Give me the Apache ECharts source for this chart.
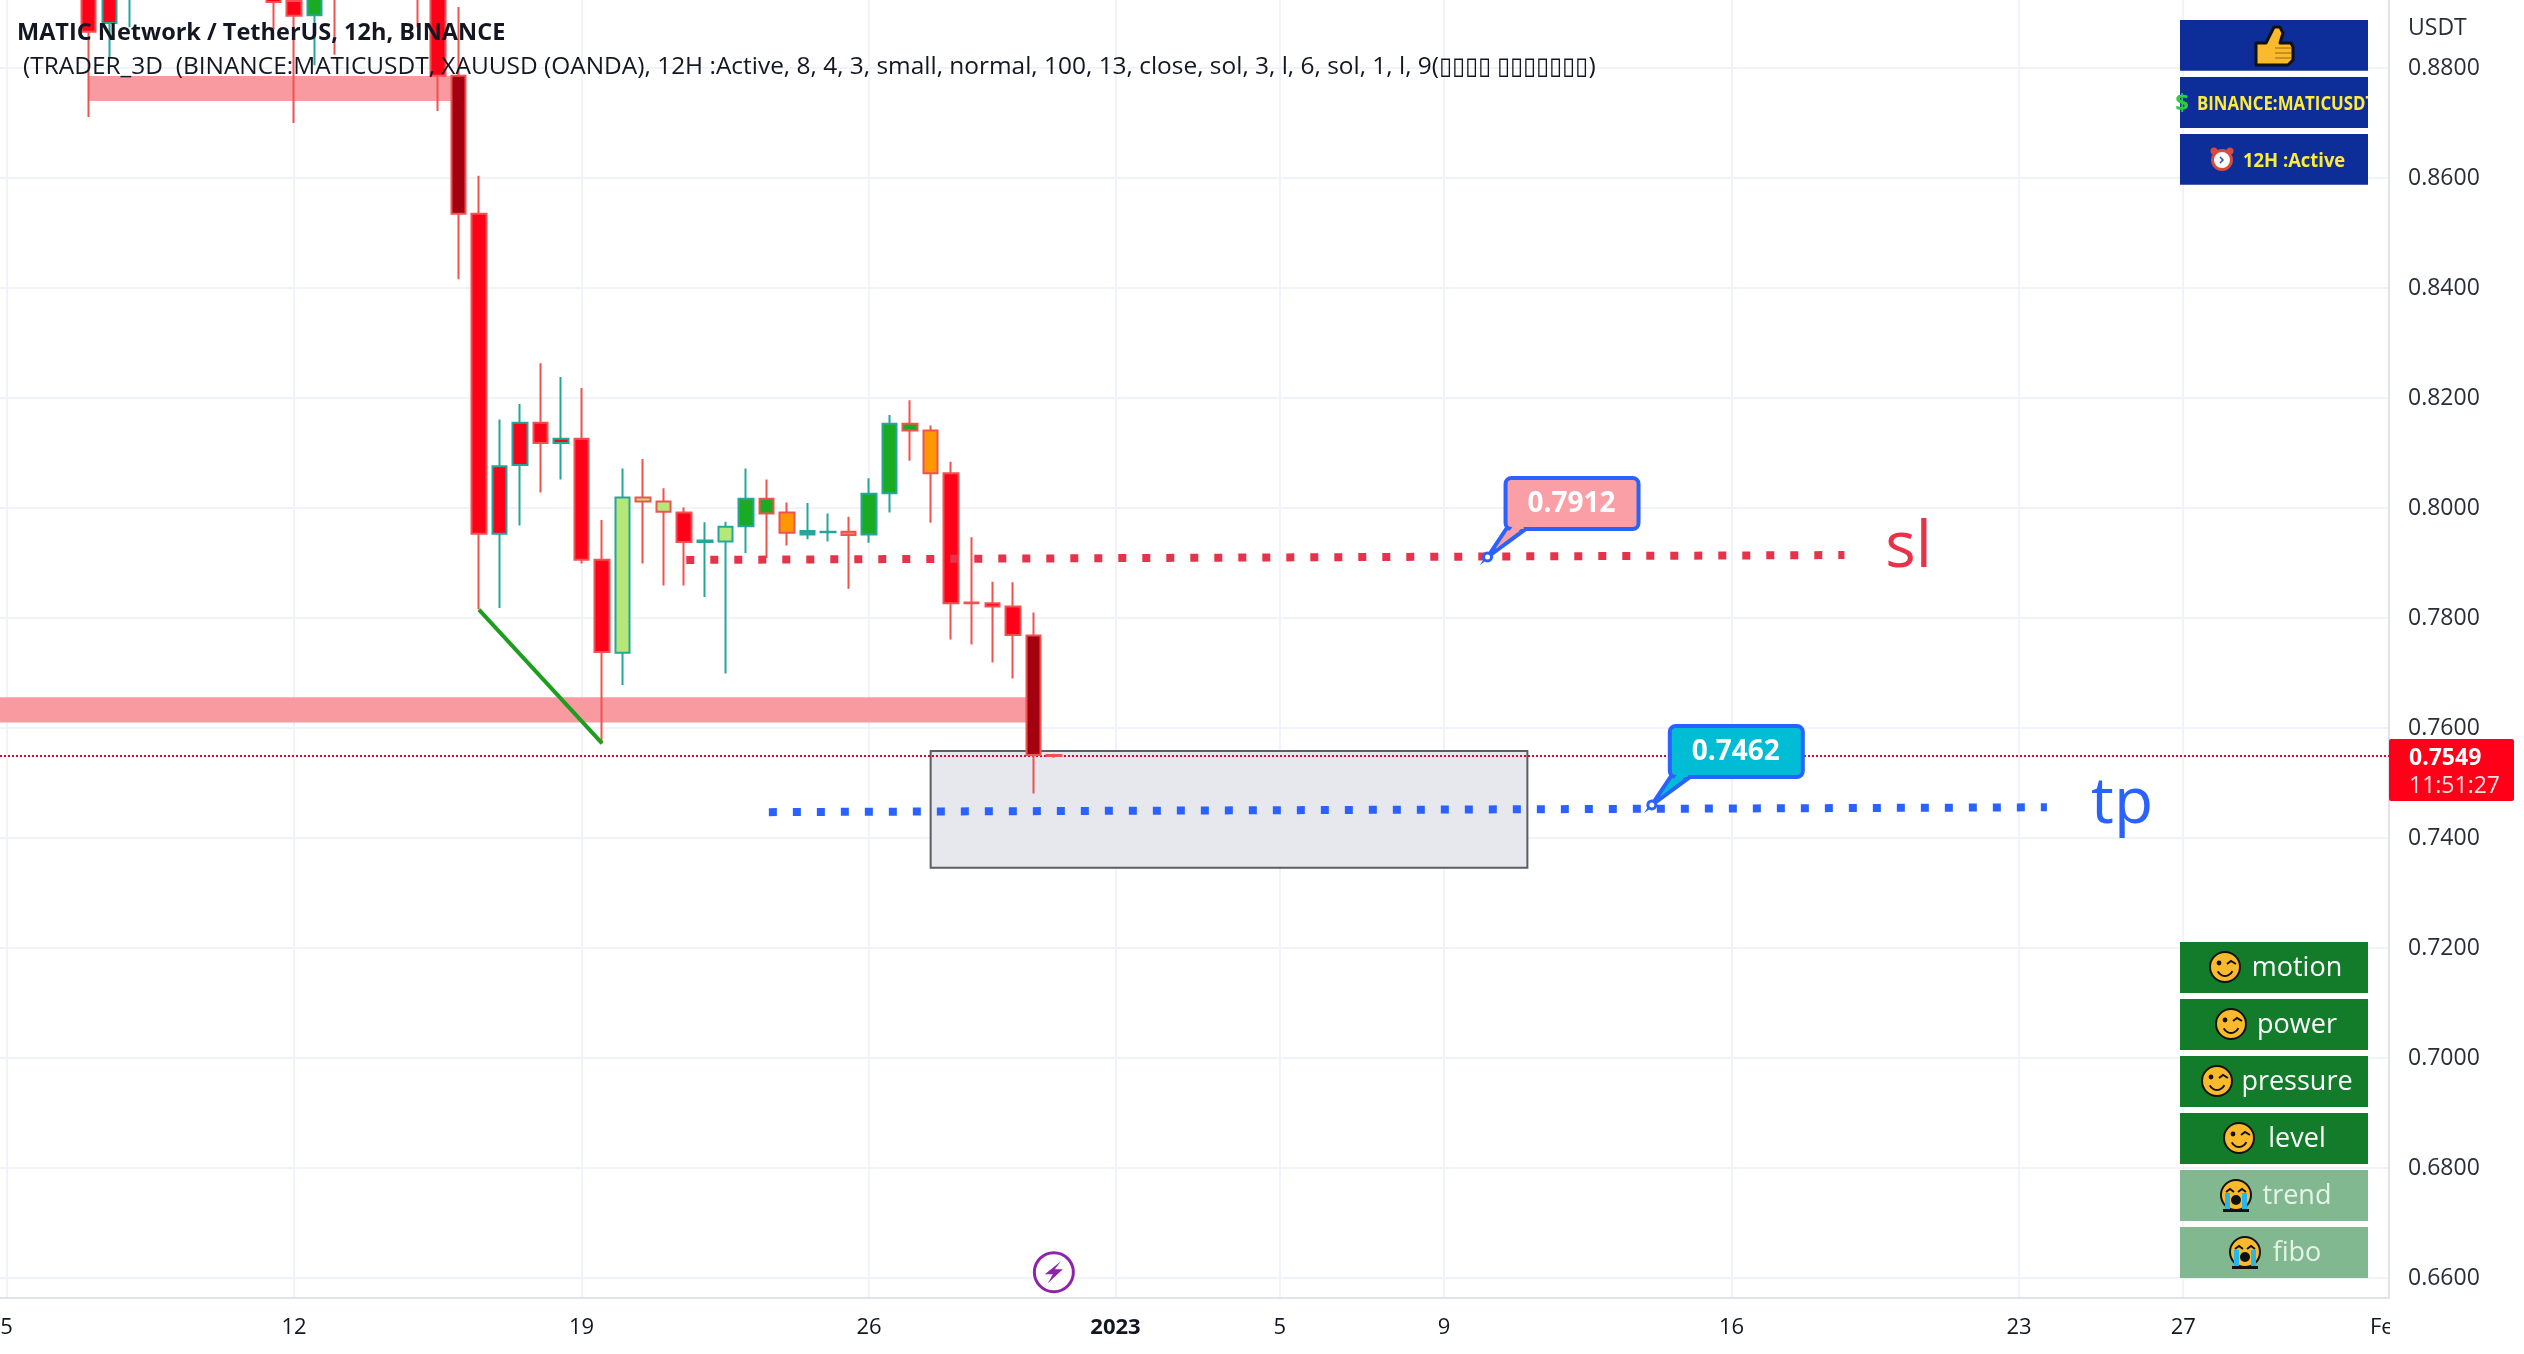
<!DOCTYPE html>
<html><head><meta charset="utf-8">
<style>html,body{margin:0;padding:0;background:#fff}#c{width:2524px;height:1354px}</style>
<script src="https://cdn.jsdelivr.net/npm/echarts@6/dist/echarts.min.js"></script>
</head><body><div id="c"></div>
<script>
// Day numbers: 1 = 1 Dec 2022, x.5 = the 12:00 bar
const barDays = [7,7.5,8,11.5,12,12.5,13,15,15.5,16,16.5,17,17.5,18,18.5,19,19.5,20,20.5,21,21.5,22,22.5,23,23.5,24,24.5,25,25.5,26,26.5,27,27.5,28,28.5,29,29.5,30,30.5];
const opens  = [.8950,.8990,.8950,.8950,.8922,.8896,.8950,.8950,.8950,.8786,.8535,.7953,.8078,.8155,.8118,.8126,.7906,.7737,.8019,.8012,.7992,.7938,.7939,.7967,.8017,.7992,.7952,.7956,.7957,.7952,.8027,.8153,.8141,.8063,.7828,.7827,.7821,.7768,.7551];
const closes = [.8866,.8882,.8930,.8920,.8895,.8930,.8930,.8930,.8786,.8535,.7953,.8076,.8155,.8118,.8126,.7906,.7738,.8019,.8012,.7993,.7938,.7941,.7966,.8017,.7990,.7955,.7958,.7957,.7951,.8026,.8153,.8141,.8063,.7827,.7827,.7821,.7769,.7551,.7549];
const lows   = [.8711,.8820,.8874,.8870,.8700,.8805,.8824,.8874,.8722,.8416,.7816,.7818,.7968,.8028,.8052,.7899,.7572,.7678,.7899,.7859,.7859,.7838,.7699,.7918,.7909,.7932,.7943,.7939,.7853,.7937,.7992,.8086,.7973,.7761,.7752,.7719,.7690,.7481,.7546];
const highs  = [.9000,.9050,.9000,.8950,.9000,.9000,.9000,.9000,.9000,.8911,.8604,.8161,.8189,.8263,.8238,.8218,.7978,.8072,.8089,.8036,.8001,.7974,.7975,.8072,.8052,.8010,.8009,.7990,.7984,.8054,.8169,.8196,.8150,.8084,.7947,.7866,.7865,.7810,.7553];
const fills  = ['red','red','red','red','red','green','red','red','red','dark','red','red','red','red','red','red','red','lime','lime','lime','red','teal','lime','green','green','orange','teal','teal','orange','green','green','green','orange','red','red','red','red','dark','red'];
const wicks  = ['red','teal','teal','red','red','teal','red','red','red','red','red','teal','teal','red','teal','red','red','teal','red','red','red','teal','teal','teal','red','red','teal','teal','red','teal','teal','red','red','red','red','red','red','red','red'];
const fillColors = {red:'#ff0018',green:'#1aab22',orange:'#ff9800',dark:'#a30010',lime:'#b5e878',teal:'#26a69a'};
const wickColors = {red:'#ef5350',teal:'#26a69a'};

const xTickDays   = [5,12,19,26,32,36,40,47,54,58,63];
const xTickLabels = ['5','12','19','26','2023','5','9','16','23','27','Feb'];
const yTicks = [.66,.68,.70,.72,.74,.76,.78,.80,.82,.84,.86,.88];
const xMin = 4.839, xMax = 63.01, yMin = .65636, yMax = .89236;

const zoneDays   = [[7.006,15.84],[4.839,29.83]];
const zonePrices = [[.87855,.8740],[.7656,.7610]];
const boxDays = [27.5,42.03], boxPrices = [.75582,.7346];
const trendLine = [[16.5,.7815],[19.5,.7572]];
const slLine = [[21.55,.79055],[49.75,.79145]];
const tpLine = [[23.56,.7447],[54.68,.74558]];
const lastPrice = 0.7549, countdown = '11:51:27';
const slCallout = {day:41.06, price:.79109, label:'0.7912', fill:'#fa9fa5'};
const tpCallout = {day:45.06, price:.7460, label:'0.7462', fill:'#00bcd4'};
const slText = {day:51.31, price:.7926, label:'sl', color:'#e8324a'};
const tpText = {day:56.51, price:.7461, label:'tp', color:'#2962ff'};
const lightningDay = 30.5, lightningPrice = .66105;
const topPanels = ['BINANCE:MATICUSDT','12H :Active'];
const bottomPanels = ['motion','power','pressure','level','trend','fibo'];
const panelFaded = [false,false,false,false,true,true];
const titleText = 'MATIC Network / TetherUS, 12h, BINANCE';
const studyText = '(TRADER_3D  (BINANCE:MATICUSDT, XAUUSD (OANDA), 12H :Active, 8, 4, 3, small, normal, 100, 13, close, sol, 3, l, 6, sol, 1, l, 9(\u25AF\u25AF\u25AF\u25AF \u25AF\u25AF\u25AF\u25AF\u25AF\u25AF\u25AF)';

const FONT = '"Open Sans","Noto Sans",sans-serif';
const candleData = barDays.map((d,i)=>{
  const f=fillColors[fills[i]], w=wickColors[wicks[i]];
  return {value:[d,opens[i],closes[i],lows[i],highs[i]],
    itemStyle:{color:f,color0:f,borderColor:w,borderColor0:w,borderColorDoji:w,borderWidth:2}};
});

function faceGraphics(cx,cy,kind){
  const out=[], r=15, z=60;
  out.push({type:'circle',z,shape:{cx,cy,r},style:{fill:'#fbb92c',stroke:'#111',lineWidth:2}});
  if(kind==='wink'){
    out.push({type:'circle',z:z+1,shape:{cx:cx-6,cy:cy-4,r:2.4},style:{fill:'#111'}});
    out.push({type:'polyline',z:z+1,shape:{points:[[cx+2,cy-3],[cx+6,cy-6],[cx+11,cy-3]]},style:{stroke:'#111',fill:null,lineWidth:2}});
    out.push({type:'arc',z:z+1,shape:{cx,cy:cy+1,r:8,startAngle:0.4,endAngle:2.7},style:{stroke:'#111',fill:null,lineWidth:2}});
  } else {
    out.push({type:'polyline',z:z+1,shape:{points:[[cx-10,cy-3],[cx-6,cy-6],[cx-2,cy-3]]},style:{stroke:'#111',fill:null,lineWidth:2}});
    out.push({type:'polyline',z:z+1,shape:{points:[[cx+2,cy-3],[cx+6,cy-6],[cx+10,cy-3]]},style:{stroke:'#111',fill:null,lineWidth:2}});
    out.push({type:'rect',z:z+1,shape:{x:cx-11,y:cy-2,width:5,height:17},style:{fill:'#29b6e8'}});
    out.push({type:'rect',z:z+1,shape:{x:cx+6,y:cy-2,width:5,height:17},style:{fill:'#29b6e8'}});
    out.push({type:'circle',z:z+1,shape:{cx,cy:cy+5,r:5},style:{fill:'#111'}});
    out.push({type:'rect',z:z+1,shape:{x:cx-13,y:cy+14,width:26,height:3},style:{fill:'#111'}});
  }
  return out;
}

const gfx = [];
function text(x,y,t,font,fill,align,extra){
  gfx.push(Object.assign({type:'text',z:70,x,y,style:{text:t,font,fill,textAlign:align||'left',textVerticalAlign:'middle'}},extra||{}));
}
text(17,33,titleText,'bold 23.5px '+FONT,'#131722');
text(23,67,studyText,'24.45px '+FONT,'#131722');
text(2408,28,'USDT','23px '+FONT,'#2a2e39');
// top panels
[[20,50.7],[77,51],[134,50.7]].forEach(([y,h])=>gfx.push({type:'rect',z:50,shape:{x:2180,y,width:188,height:h},style:{fill:'#0d2e99'}}));
// thumb
gfx.push({type:'polygon',z:60,shape:{points:[[2256,43],[2266,43],[2274,27],[2280,27],[2283,33],[2280,43],[2291,43],[2293,47],[2293,60],[2288,65],[2256,65]]},style:{fill:'#fbb92c',stroke:'#111',lineWidth:3,lineJoin:'round'}});
[48,53,58].forEach(y=>gfx.push({type:'line',z:61,shape:{x1:2275,y1:y,x2:2291,y2:y},style:{stroke:'#b9851a',lineWidth:1.5}}));
text(2182,104,'$','bold 24px '+FONT,'#2ecc40','center');
text(2197,104,topPanels[0],'bold 20px '+FONT,'#ffeb3b','left',{scaleX:0.84});
gfx.push({type:'rect',z:71,shape:{x:2368,y:77,width:20,height:51},style:{fill:'#fff'}});
gfx.push({type:'circle',z:60,shape:{cx:2222,cy:160,r:9.5},style:{fill:'#fff',stroke:'#d94b3d',lineWidth:3}});
gfx.push({type:'circle',z:60,shape:{cx:2214,cy:151,r:3.5},style:{fill:'#d94b3d'}});
gfx.push({type:'circle',z:60,shape:{cx:2230,cy:151,r:3.5},style:{fill:'#d94b3d'}});
gfx.push({type:'polyline',z:61,shape:{points:[[2220,157],[2223,160],[2220,163]]},style:{stroke:'#3949ab',fill:null,lineWidth:1.5}});
text(2243,161,topPanels[1],'bold 20px '+FONT,'#ffeb3b','left',{scaleX:0.92});
// bottom panels
const faceX=[2225,2231,2217,2239,2236,2245];
bottomPanels.forEach((p,i)=>{
  const y=942+i*57;
  gfx.push({type:'rect',z:50,shape:{x:2180,y,width:188,height:51},style:{fill:panelFaded[i]?'#82b890':'#127c2a'}});
  gfx.push(...faceGraphics(faceX[i],y+25,panelFaded[i]?'cry':'wink'));
  text(2297,y+26,p,'27px '+FONT,panelFaded[i]?'#e6f3e8':'#ffffff','center');
});
// hides the clipped part of the last time label under the price scale
gfx.push({type:'rect',z:100,shape:{x:2390,y:1300,width:134,height:54},style:{fill:'#fff'}});

const option = {
  animation:false, backgroundColor:'#fff',
  grid:{left:0,top:0,width:2389,height:1298,containLabel:false,outerBoundsMode:'none'},
  xAxis:{type:'value',min:xMin,max:xMax,
    axisLine:{show:true,onZero:false,lineStyle:{color:'#e0e3eb',width:2}},
    axisTick:{show:false,customValues:xTickDays},
    splitLine:{show:true,lineStyle:{color:'#f0f3fa',width:2}},
    axisLabel:{customValues:xTickDays,margin:19,hideOverlap:false,showMinLabel:true,showMaxLabel:true,
      fontFamily:FONT,fontSize:22,color:'#131722',
      formatter:v=>{const s=xTickLabels[xTickDays.indexOf(v)];return s==='2023'?'{b|2023}':s;},
      rich:{b:{fontWeight:'bold',fontFamily:FONT,fontSize:22,color:'#131722'}}}},
  yAxis:{type:'value',position:'right',min:yMin,max:yMax,scale:true,
    axisLine:{show:true,onZero:false,lineStyle:{color:'#e0e3eb',width:2}},
    axisTick:{show:false,customValues:yTicks},
    splitLine:{show:true,lineStyle:{color:'#f0f3fa',width:2}},
    axisLabel:{customValues:yTicks,margin:19,padding:[3,0,0,0],fontFamily:FONT,fontSize:23,color:'#2a2e39',formatter:v=>v.toFixed(4)}},
  graphic:{elements:gfx},
  series:[
   {type:'custom',name:'zones',z:1,clip:true,coordinateSystem:'cartesian2d',silent:true,
    data:zoneDays.map((d,i)=>[d[0],d[1],zonePrices[i][0],zonePrices[i][1]]),
    encode:{x:[0,1],y:[2,3]},
    renderItem:(p,api)=>{const a=api.coord([api.value(0),api.value(2)]),b=api.coord([api.value(1),api.value(3)]);
      return {type:'rect',shape:{x:a[0],y:a[1],width:b[0]-a[0],height:b[1]-a[1]},style:{fill:'#f99aa1'}};}},
   {type:'custom',name:'box',z:1,silent:true,
    data:[[boxDays[0],boxDays[1],boxPrices[0],boxPrices[1]]],encode:{x:[0,1],y:[2,3]},
    renderItem:(p,api)=>{const a=api.coord([api.value(0),api.value(2)]),b=api.coord([api.value(1),api.value(3)]);
      return {type:'rect',shape:{x:a[0],y:a[1],width:b[0]-a[0],height:b[1]-a[1]},style:{fill:'#e7e8ed',stroke:'#5a5c66',lineWidth:2}};}},
   {type:'line',name:'last',z:2,symbol:'none',silent:true,data:[[xMin,lastPrice],[xMax,lastPrice]],
    lineStyle:{color:'#e5002b',width:2,type:[2,2]}},
   {type:'candlestick',name:'MATICUSDT',z:3,layout:'horizontal',barWidth:15,silent:true,clip:true,
    encode:{x:0,y:[1,2,3,4]},data:candleData},
   {type:'line',name:'trend',z:4,symbol:'none',silent:true,data:trendLine,lineStyle:{color:'#1e9e1e',width:4}},
   {type:'line',name:'sl',z:4,symbol:'none',silent:true,data:slLine,lineStyle:{color:'#e8324a',width:8,type:[8,16]}},
   {type:'line',name:'tp',z:4,symbol:'none',silent:true,data:tpLine,lineStyle:{color:'#2962ff',width:8,type:[8,16]}},
   {type:'custom',name:'callouts',z:6,silent:true,
    data:[slCallout,tpCallout].map(c=>[c.day,c.price]),encode:{x:0,y:1},
    renderItem:(p,api)=>{const c=[slCallout,tpCallout][p.dataIndex];const t=api.coord([api.value(0),api.value(1)]);
      const X=t[0],Y=t[1];
      return {type:'group',children:[
        {type:'polygon',shape:{points:[[X,Y],[X+20,Y-30],[X+41,Y-30]]},style:{fill:c.fill,stroke:'#2962ff',lineWidth:4}},
        {type:'rect',shape:{x:X+18,y:Y-79,width:133,height:51,r:6},style:{fill:c.fill,stroke:'#2962ff',lineWidth:4}},
        {type:'polygon',shape:{points:[[X+8,Y-8],[X+25,Y-30],[X+36,Y-30]]},style:{fill:c.fill}},
        {type:'rect',shape:{x:X+25,y:Y-34,width:11,height:6},style:{fill:c.fill}},
        {type:'circle',shape:{cx:X,cy:Y,r:4},style:{fill:'#fff',stroke:'#2962ff',lineWidth:3}},
        {type:'text',x:X+84,y:Y-53,style:{text:c.label,font:'bold 28px '+FONT,fill:'#fff',textAlign:'center',textVerticalAlign:'middle'}}
      ]};}},
   {type:'custom',name:'letters',z:6,silent:true,
    data:[slText,tpText].map(c=>[c.day,c.price]),encode:{x:0,y:1},
    renderItem:(p,api)=>{const c=[slText,tpText][p.dataIndex];const t=api.coord([api.value(0),api.value(1)]);
      return {type:'text',x:t[0],y:t[1],style:{text:c.label,font:'64px '+FONT,fill:c.color,textAlign:'center',textVerticalAlign:'middle'}};}},
   {type:'custom',name:'lightning',z:6,silent:true,
    data:[[lightningDay,lightningPrice]],encode:{x:0,y:1},
    renderItem:(p,api)=>{const t=api.coord([api.value(0),api.value(1)]);const X=t[0],Y=t[1];
      return {type:'group',children:[
        {type:'circle',shape:{cx:X,cy:Y,r:19.5},style:{fill:'#fff',stroke:'#8e24aa',lineWidth:3}},
        {type:'polygon',shape:{points:[[X+7,Y-11],[X-9,Y+2],[X-1,Y+2],[X-6,Y+11],[X+9,Y-3],[X+1,Y-3]]},style:{fill:'#8e24aa'}}
      ]};}},
   {type:'custom',name:'priceTag',z:7,silent:true,clip:false,
    data:[[xMax,lastPrice]],encode:{x:0,y:1},
    renderItem:(p,api)=>{const t=api.coord([api.value(0),api.value(1)]);const X=t[0],Y=t[1];
      return {type:'group',children:[
        {type:'rect',shape:{x:X,y:Y-17,width:125,height:62,r:2},style:{fill:'#ff0018'}},
        {type:'text',x:X+20,y:Y+2,style:{text:api.value(1).toFixed(4),font:'bold 23px '+FONT,fill:'#fff',textVerticalAlign:'middle'}},
        {type:'text',x:X+20,y:Y+30,style:{text:countdown,font:'23px '+FONT,fill:'#ffdfe2',textVerticalAlign:'middle'}}
      ]};}}
  ]
};
const chart = echarts.init(document.getElementById('c'),null,{renderer:'canvas',width:2524,height:1354});
chart.setOption(option);
</script></body></html>
